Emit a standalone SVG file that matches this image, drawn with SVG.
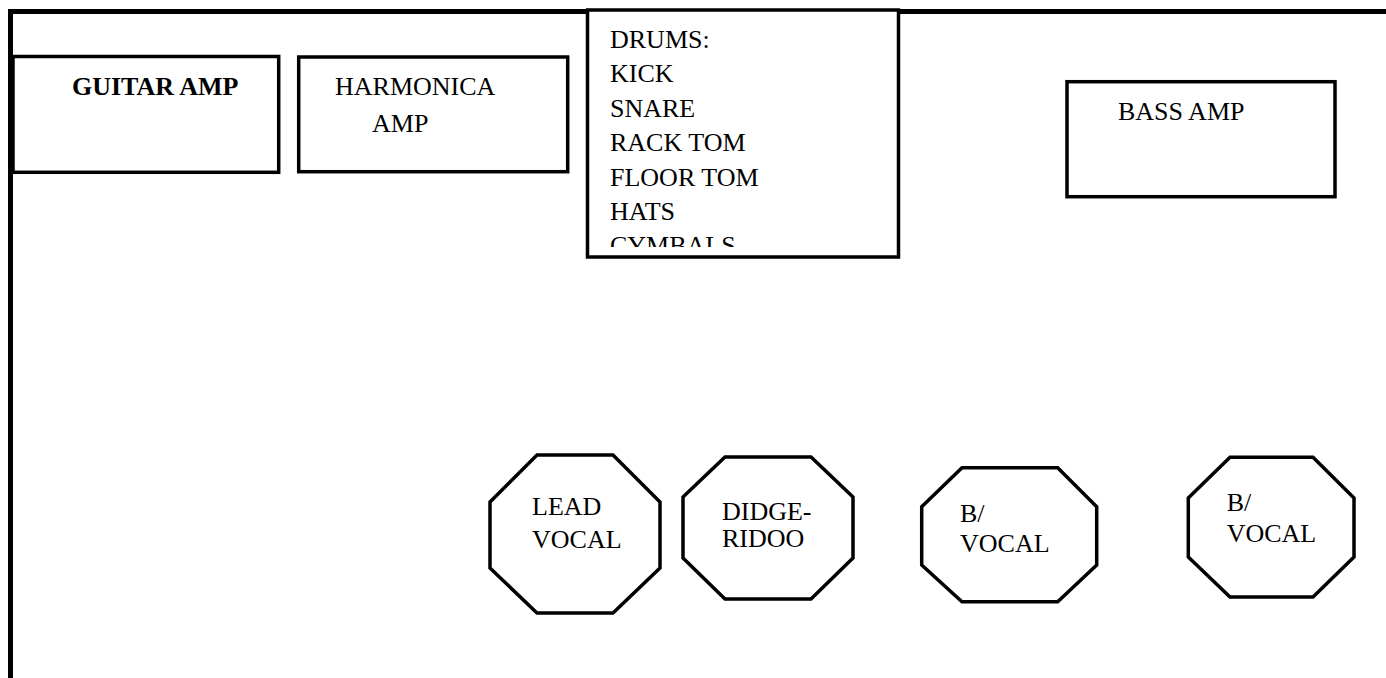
<svg xmlns="http://www.w3.org/2000/svg" width="1386" height="678" viewBox="0 0 1386 678">
<style>
.box{fill:#fff;stroke:#000;stroke-width:3.5}
.oct{fill:#fff;stroke:#000;stroke-width:3.5;stroke-linejoin:miter}
.t{font-family:"Liberation Serif","Times New Roman",serif;font-size:26px;fill:#000}
.b{font-weight:bold}
</style>
<defs>
<clipPath id="drumclip"><rect x="589" y="12" width="308" height="235"/></clipPath>
</defs>
<rect x="0" y="0" width="1386" height="678" fill="#fff"/>
<g id="stage">
<line x1="10.5" y1="11.5" x2="1386" y2="11.5" stroke="#000" stroke-width="5"/>
<line x1="10.5" y1="9" x2="10.5" y2="678" stroke="#000" stroke-width="5"/>
</g>
<g id="connectors"></g>
<g id="guitar-amp">
<rect class="box" x="13" y="56.5" width="265.7" height="115.8"/>
<text class="t b" x="72" y="95">GUITAR AMP</text>
</g>
<g id="harmonica-amp">
<rect class="box" x="298.7" y="57" width="269" height="114.7"/>
<text class="t" x="335" y="95">HARMONICA</text>
<text class="t" x="372" y="132">AMP</text>
</g>
<g id="drums">
<rect class="box" x="587.5" y="10" width="311" height="247" stroke-width="4"/>
<g clip-path="url(#drumclip)">
<text class="t" x="610" y="48">DRUMS:</text>
<text class="t" x="610" y="82.4">KICK</text>
<text class="t" x="610" y="116.8">SNARE</text>
<text class="t" x="610" y="151.2">RACK TOM</text>
<text class="t" x="610" y="185.6">FLOOR TOM</text>
<text class="t" x="610" y="220">HATS</text>
<text class="t" x="610" y="254.4">CYMBALS</text>
</g>
</g>
<g id="bass-amp">
<rect class="box" x="1067" y="81.7" width="268" height="115"/>
<text class="t" x="1118" y="120">BASS AMP</text>
</g>
<g id="lead-vocal">
<polygon class="oct" points="537,455 613,455 660,502 660,568 613,613 537,613 490,568 490,502"/>
<text class="t" x="532" y="515">LEAD</text>
<text class="t" x="532" y="548">VOCAL</text>
</g>
<g id="didgeridoo">
<polygon class="oct" points="725,457 811,457 853,497 853,558 811,599 725,599 683,558 683,497"/>
<text class="t" x="722" y="520">DIDGE-</text>
<text class="t" x="722" y="547">RIDOO</text>
</g>
<g id="bvocal-1">
<polygon class="oct" points="962,467.7 1057.7,467.7 1096.7,506.7 1096.7,565 1057.7,601.7 962,601.7 921.7,565 921.7,506.7"/>
<text class="t" x="960" y="521.7">B/</text>
<text class="t" x="960" y="552.3">VOCAL</text>
</g>
<g id="bvocal-2">
<polygon class="oct" points="1230,457.3 1313,457.3 1354,498 1354,557 1313,597 1230,597 1188.3,557 1188.3,498"/>
<text class="t" x="1226.7" y="510.7">B/</text>
<text class="t" x="1226.7" y="541.7">VOCAL</text>
</g>
</svg>
